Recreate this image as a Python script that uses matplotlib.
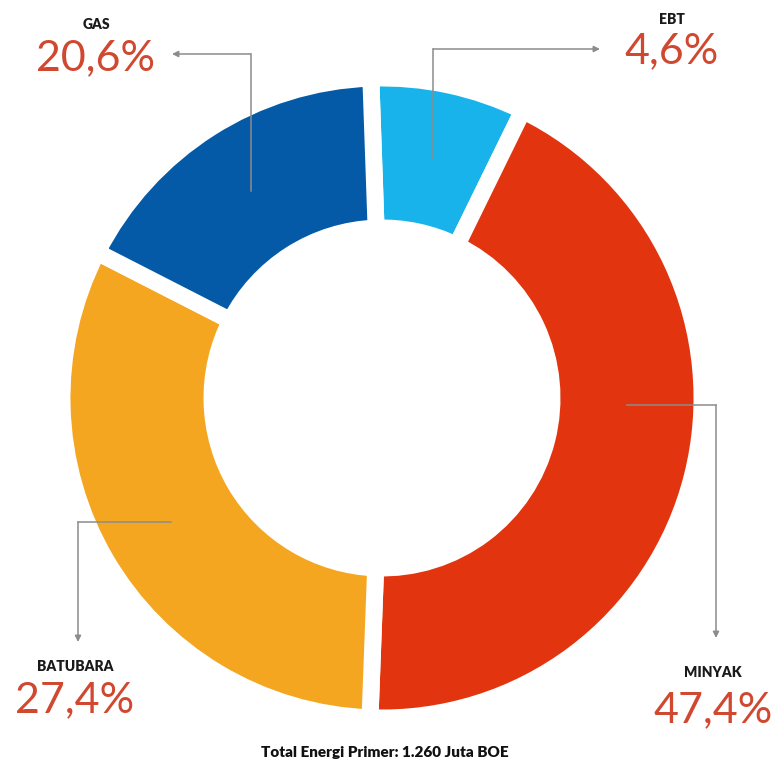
import numpy as np
import matplotlib
matplotlib.use("Agg")
import matplotlib.pyplot as plt

# Data (clockwise from the top)
categories = ["EBT", "MINYAK", "BATUBARA", "GAS"]
pct_labels = ["4,6%", "47,4%", "27,4%", "20,6%"]
arc_share = [7.8, 43.3, 31.9, 16.9]  # share of the ring as drawn
colors = ["#18b3ea", "#e2350f", "#f4a620", "#055aa7"]
footer = "Total Energi Primer: 1.260 Juta BOE"

W, H = 780, 766
CX, CY = 382, H - 398  # ring centre, y measured upward
R_OUT, R_IN = 320, 170
R_MID = 245

LABEL_RED = "#d04830"
LEAD_GREY = "#8c8c8c"

fig = plt.figure(figsize=(W / 100, H / 100), dpi=100)
ax = fig.add_axes([0, 0, 1, 1])

wedges, _ = ax.pie(arc_share, colors=colors, startangle=92, counterclock=False,
                   center=(CX, CY), radius=R_OUT,
                   wedgeprops=dict(width=R_OUT - R_IN, edgecolor="white", linewidth=12.2))

ax.set_xlim(0, W)
ax.set_ylim(0, H)
ax.set_aspect("equal")
ax.axis("off")


def img_y(y):  # image rows are measured from the top
    return H - y


# leader layout: where along the wedge it starts, first direction, corner, arrow end
leaders = {
    "EBT": (0.5, "v", 49, 600),
    "MINYAK": (0.58, "h", 716, 638),
    "BATUBARA": (0.5, "h", 78, 642),
    "GAS": (0.5, "v", 54, 172),
}
# text layout: x centre, name baseline, percent baseline (image rows)
text_pos = {
    "EBT": (672, 24, 63),
    "MINYAK": (713, 677, 722),
    "BATUBARA": (75, 671, 712),
    "GAS": (96, 29, 70),
}

for w, name, pct in zip(wedges, categories, pct_labels):
    frac, first, c, end = leaders[name]
    ang = np.deg2rad(w.theta1 + frac * (w.theta2 - w.theta1))
    x0 = CX + R_MID * np.cos(ang)
    y0 = CY + R_MID * np.sin(ang)
    if first == "v":
        corner = (x0, img_y(c))
        tip = (end, img_y(c))
    else:
        corner = (c, y0)
        tip = (c, img_y(end))
    ax.plot([x0, corner[0]], [y0, corner[1]], color=LEAD_GREY, lw=1.1, zorder=5)
    ax.annotate("", xy=tip, xytext=corner,
                arrowprops=dict(arrowstyle="-|>", color=LEAD_GREY, lw=1.1,
                                mutation_scale=9, shrinkA=0, shrinkB=0), zorder=5)

    tx, name_base, pct_base = text_pos[name]
    ax.text(tx, img_y(name_base), name, ha="center", va="baseline",
            fontsize=10, fontweight="heavy", family="Lato", color="#1a1a1a")
    ax.text(tx, img_y(pct_base), pct, ha="center", va="baseline",
            fontsize=31, family="Lato", color=LABEL_RED)

ax.text(385, img_y(757), footer, ha="center", va="baseline",
        fontsize=11, fontweight="heavy", family="Lato", color="#111111")

fig.savefig("out.png", dpi=100, facecolor="white")
